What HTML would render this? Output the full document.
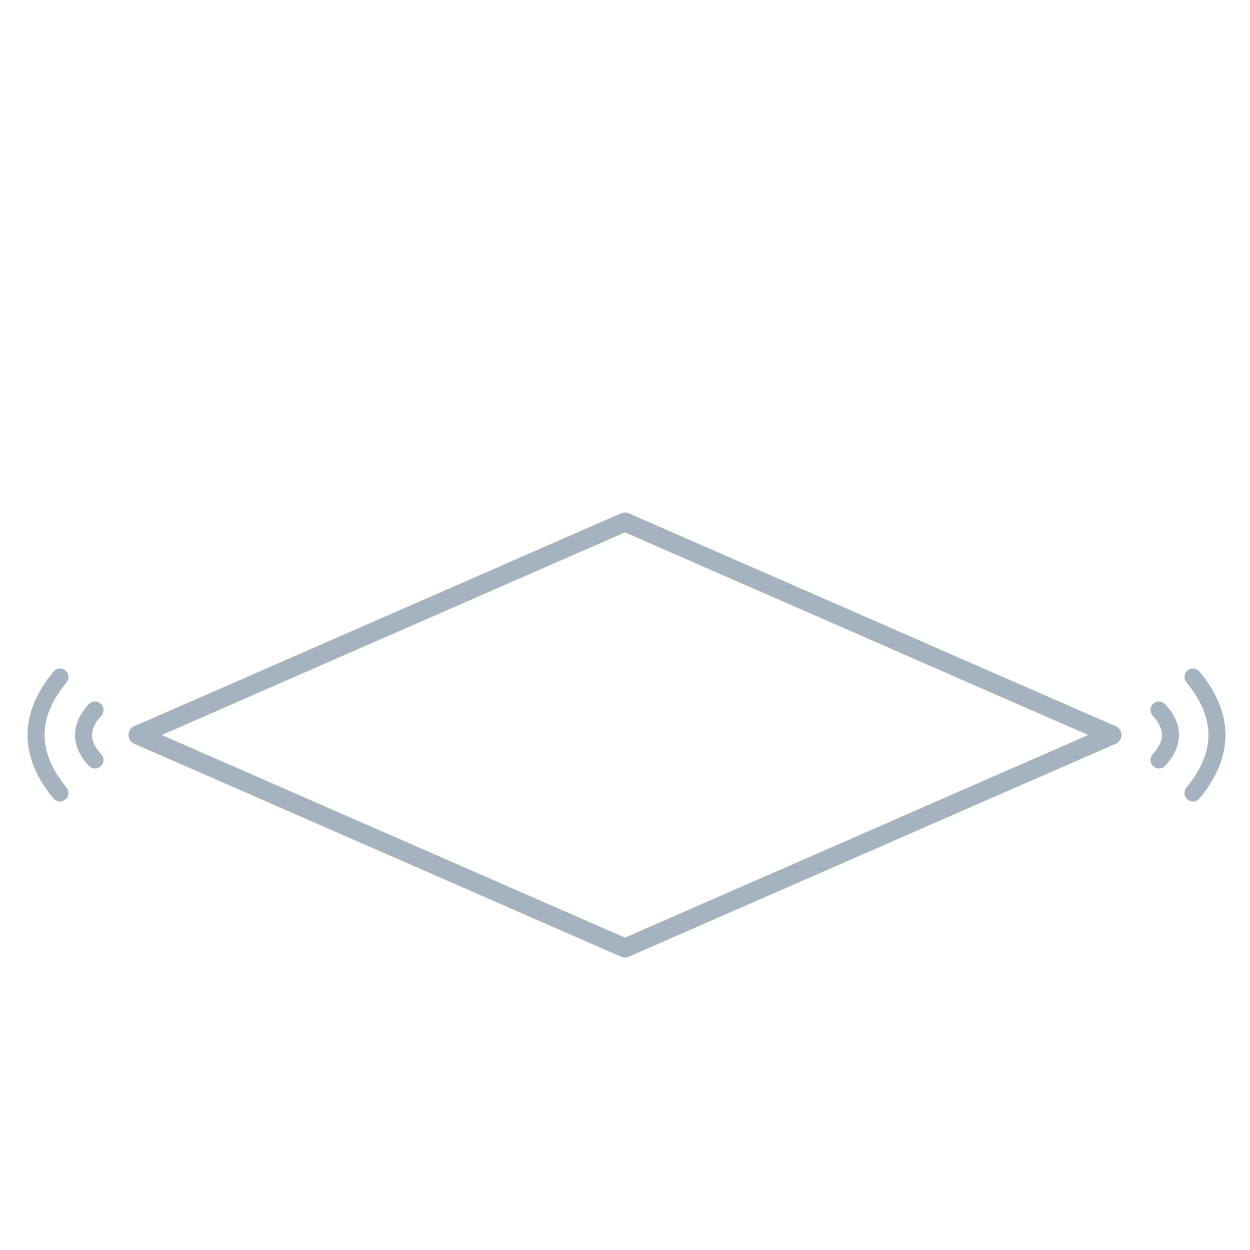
<!DOCTYPE html>
<html><head><meta charset="utf-8"><style>html,body{margin:0;padding:0;background:#fff}svg{display:block}</style></head>
<body>
<svg width="1250" height="1250" viewBox="0 0 1250 1250" xmlns="http://www.w3.org/2000/svg">
<g fill="none" stroke="#a5b2bf" stroke-width="17" stroke-linecap="round" stroke-linejoin="round">
<polygon points="625,522 138,735 625,948 1112,735" stroke-width="19"/>
<path d="M60,677 Q12,735 60,793"/>
<path d="M95,710 Q72,735 95,760"/>
<path d="M1159,710 Q1182,735 1159,760"/>
<path d="M1193,677 Q1241,735 1193,793"/>
</g>
</svg>
</body></html>
